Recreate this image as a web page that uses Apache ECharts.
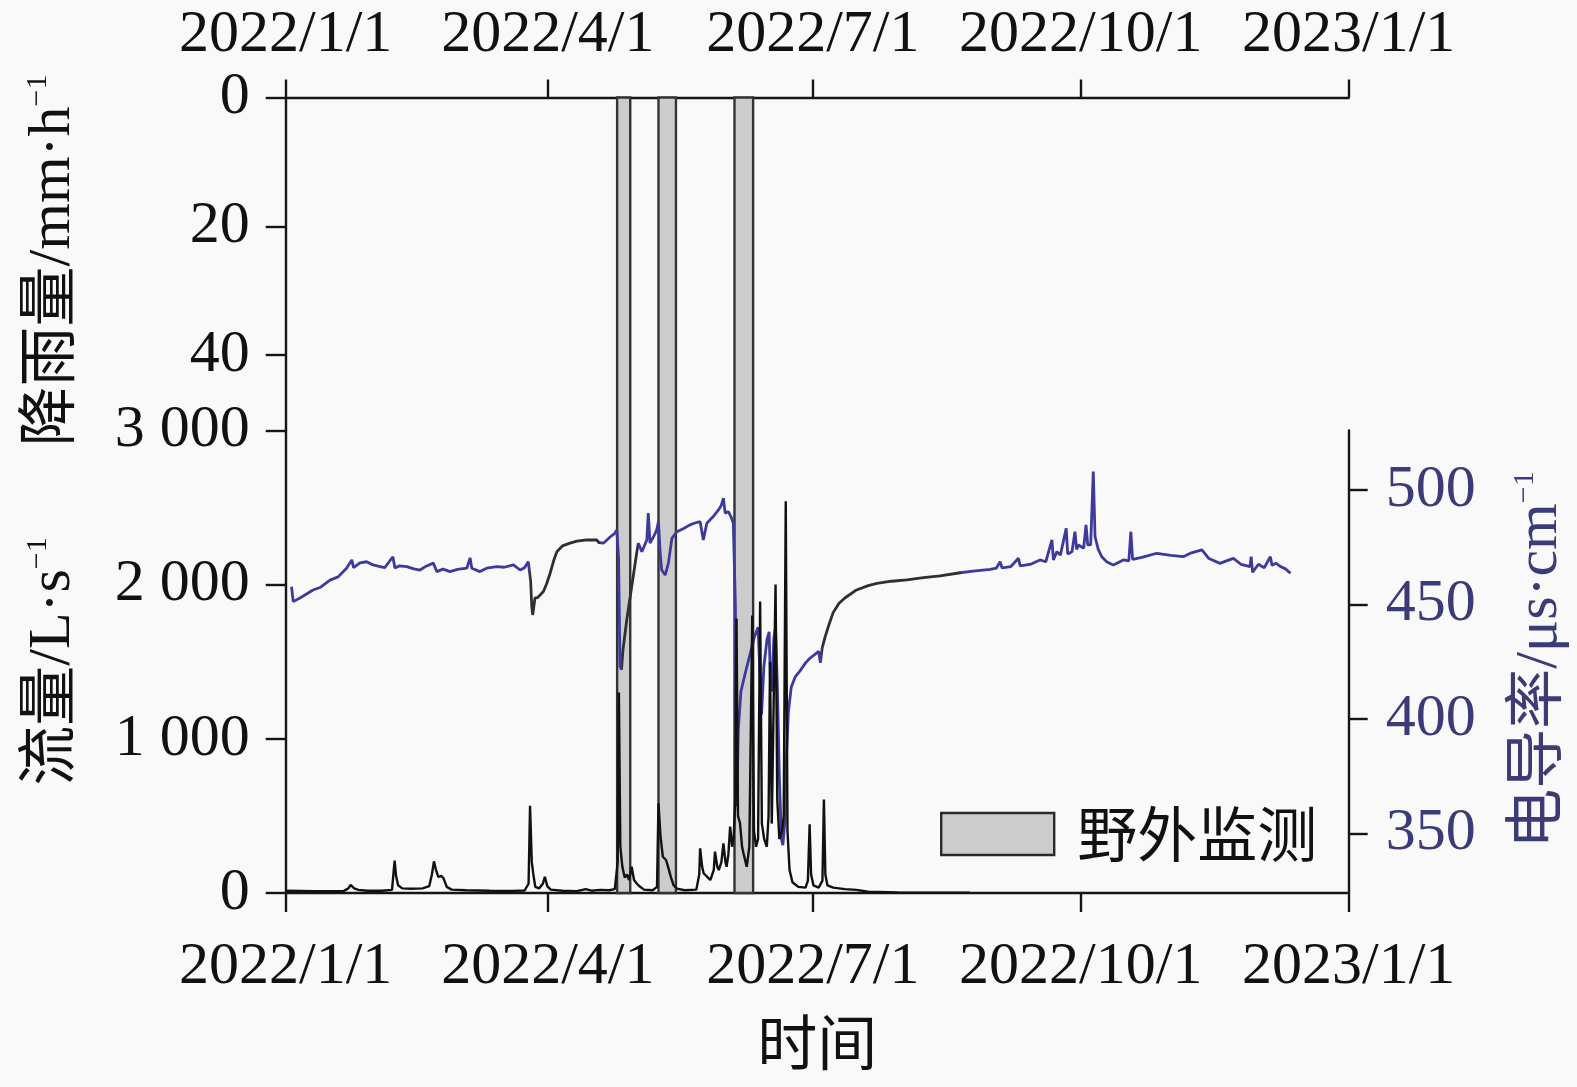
<!DOCTYPE html>
<html>
<head>
<meta charset="utf-8">
<script src="https://cdn.jsdelivr.net/npm/echarts@6/dist/echarts.min.js"></script>
<style>
html,body{margin:0;padding:0;background:#f9f9f9;}
#c{width:1577px;height:1087px;}
</style>
</head>
<body>
<div id="c"></div>
<script>
// x values: days since 2022-01-01
const tickDays = [0, 90, 181, 273, 365];
const tickLabels = ['2022/1/1', '2022/4/1', '2022/7/1', '2022/10/1', '2023/1/1'];
const rainTicks = [0, 20, 40];
const flowTicks = [0, 1000, 2000, 3000];
const ecTicks = [350, 400, 450, 500];

// field monitoring periods (day offsets)
const bandStart = [113.8, 128.0, 154.1];
const bandEnd   = [118.3, 134.0, 160.5];

// flow (L/s)
const flowDay = [0,5,10,15,20,21.5,22.3,23.5,25,28,33,36.5,37.4,37.9,38.6,40,43,47,49.3,50.2,50.9,51.6,52.4,53.5,54.2,55.3,57,62,70,78,82,83.4,83.9,84.5,85.0,85.7,87,88.3,89.0,89.8,91,95,100,103,105,108,111,113,114.0,114.4,114.9,115.6,116.4,117.2,117.9,118.8,119.6,120.6,121.7,123,126,127.5,128.0,128.7,129.5,130.6,131.6,132.2,133.2,134.3,137,141,142.0,142.3,143.0,143.5,145.0,145.8,147.0,147.4,148.2,148.7,149.6,150.3,151.0,151.4,152.0,152.6,153.3,153.8,154.4,154.8,155.3,156.0,156.7,157.2,158.3,159.2,160.2,160.8,161.5,162.2,162.9,163.5,164.3,165.2,165.8,166.3,166.9,167.5,168.2,168.8,169.5,170.4,171.0,171.7,172.3,173.0,174.0,176,178.5,179.3,179.9,180.4,181.2,183,184.3,184.8,185.3,186,188,192,196,200,210,235];
const flowVal = [15,14,12,12,14,30,52,30,20,15,15,20,210,110,50,30,28,30,45,120,205,150,105,110,95,40,22,18,15,14,16,60,565,200,125,40,30,60,105,45,22,15,12,25,15,20,18,25,200,1300,300,170,100,120,84,170,84,60,40,22,18,40,582,365,235,214,150,106,50,28,18,22,120,290,170,128,100,84,150,268,170,149,200,322,200,170,250,430,300,360,600,1780,500,452,300,257,170,300,1800,400,300,350,1890,450,350,300,500,1500,450,450,2000,600,350,400,500,2540,400,150,70,40,35,80,445,120,50,35,80,606,120,50,35,25,20,8,3,2];

// electrical conductivity (us/cm)
const ecDay = [2.0,2.6,4.9,9.4,12,15.2,18,20.9,22.7,23.3,25.5,27.8,30,32.4,34,36.8,37.5,39,41.6,44,46.1,48,50.7,51.9,54,56.4,59,62.2,63.3,63.9,66.7,69,72.5,75,78.2,80.5,82,83.3,84.1,84.5,84.8,85.6,86.5,88.5,89.6,90.8,92,93.1,95,97.6,100,103.4,106.8,107.5,109.1,111.4,113.0,113.7,114.3,114.8,115.3,115.8,117.1,118.8,120.5,121.1,122.3,124,124.5,125.1,126.5,127.4,128,128.6,129.1,130.3,131.4,132.6,134.3,136.5,138.8,140.5,142.3,143.4,144.6,146.8,148.6,149.5,150.3,150.9,152,153.0,153.7,154.4,154.9,155.4,156.3,157.8,159.4,161.0,162.2,162.9,163.4,164.2,165.3,166.0,166.4,166.9,167.6,168.2,168.8,169.5,170.2,170.7,171.4,172.0,172.6,173.6,175.0,176.6,178.5,180.0,181.5,183.0,183.6,184.2,185.2,186.5,188,190,192,196,200,203,208,213.3,219,224.7,231.6,236,241.9,244,245.3,246,249,251.6,252.2,256,259,261,263.1,263.6,264.8,266,268,268.5,270,271,271.6,272.2,274,274.8,275.4,276.4,277.3,277.9,279,280.2,282,284.2,287.6,289.5,290.2,290.8,294,299.1,304,308.2,311,314.6,317,320.8,323,325.4,328,331.1,331.5,332,334,336,338.1,338.7,340,341.6,343.3,345];
const ecVal = [457.7,451.2,452.8,456.3,457.5,460.6,462,465.8,469.4,466,468.1,468.6,467.2,466.5,466,470.8,465.9,466.8,466.5,465.5,465.0,466.5,468.0,464.3,465.4,464.3,465.3,465.8,470.3,465.8,464.3,465.8,466.5,466.2,467.2,465.0,466,468.6,460,449.0,445.4,452.8,453,455.6,459,463.6,469,473.0,475.5,476.7,477.6,478.1,478.1,477,476.7,479.4,481,482.5,470,423,421.5,430,443.2,457.7,472.3,476.7,473,478.1,489.8,476.7,480,482.5,486.1,472,465,462.8,467.9,478.8,481.7,483,484.7,485.5,486.1,478.1,485.4,488.3,491.2,493,496.3,489.8,490.5,488,485.4,450,362,395,412,420,428,436,440,418,402,423,435,438,418,412,435,440,415,375,348,345,355,385,403,414,418.5,421,424.5,426.5,428,429.5,424.5,431,435.7,441,446.5,450.5,452.8,456.3,458.2,459.2,460.1,460.7,461.7,462.4,463.8,464.5,465.3,465.8,468.6,465.9,466.5,470.1,466.8,467.6,469.4,468.6,478.1,469.4,473,471.5,483.2,472,473,481.7,474,475.9,474.5,484.7,476,476,507.9,479.6,474,470.8,468.5,467.2,469.4,469,481.7,469.6,470.5,472.3,471.4,470.8,472.5,473.8,470,467.9,469,470.1,467.5,466.5,470.8,464,467.5,466,470.8,467,468,466.5,465.5,463.6];

const BLUE = '#3d3a9c';
const DARK = '#2e2e33';
const NAVY = '#3b3b78';
const SERIF = "'Liberation Serif', 'Noto Sans CJK SC'";
const FS = 60;

const GL = 285.7, GW = 1063;
const TOP = 97.5, MID = 430.4, BOT = 893;

const flowData = flowDay.map((d, i) => [d, flowVal[i]]);
const ecData = ecDay.map((d, i) => [d, ecVal[i]]);
const bandData = bandStart.map((s, i) => [s, bandEnd[i]]);

const xLabelFmt = v => {
  const i = tickDays.indexOf(Math.round(v));
  return i >= 0 ? tickLabels[i] : '';
};
const axisLineStyle = { color: '#151515', width: 2.4 };

const chart = echarts.init(document.getElementById('c'), null, { renderer: 'canvas' });
chart.setOption({
  backgroundColor: '#f9f9f9',
  animation: false,
  grid: [
    { left: GL, top: TOP, width: GW, height: MID - TOP, outerBoundsMode: 'none' },
    { left: GL, top: MID, width: GW, height: BOT - MID, outerBoundsMode: 'none' },
    { left: GL, top: TOP, width: GW, height: BOT - TOP, outerBoundsMode: 'none' }
  ],
  xAxis: [
    {
      gridIndex: 0, type: 'value', position: 'top', min: 0, max: 365,
      axisLine: { show: true, lineStyle: axisLineStyle },
      axisTick: { show: true, inside: false, length: 18, customValues: tickDays, lineStyle: axisLineStyle },
      axisLabel: { customValues: tickDays, formatter: xLabelFmt, fontFamily: SERIF, fontSize: FS, color: '#111', margin: 32, showMinLabel: true, showMaxLabel: true },
      splitLine: { show: false }
    },
    {
      gridIndex: 1, type: 'value', position: 'bottom', min: 0, max: 365,
      name: '时间', nameLocation: 'middle', nameGap: 126,
      nameTextStyle: { fontFamily: SERIF, fontSize: FS, color: '#111' },
      axisLine: { show: true, lineStyle: axisLineStyle },
      axisTick: { show: true, inside: false, length: 19, customValues: tickDays, lineStyle: axisLineStyle },
      axisLabel: { customValues: tickDays, formatter: xLabelFmt, fontFamily: SERIF, fontSize: FS, color: '#111', margin: 44, showMinLabel: true, showMaxLabel: true },
      splitLine: { show: false }
    },
    { gridIndex: 2, type: 'value', min: 0, max: 365, show: false }
  ],
  yAxis: [
    {
      gridIndex: 0, type: 'value', inverse: true, min: 0, max: (MID - TOP) / 6.44,
      axisLine: { show: true, lineStyle: axisLineStyle },
      axisTick: { show: true, inside: false, length: 20, customValues: rainTicks, lineStyle: axisLineStyle },
      axisLabel: { customValues: rainTicks, fontFamily: SERIF, fontSize: FS, color: '#111', margin: 36 },
      splitLine: { show: false }
    },
    {
      gridIndex: 1, type: 'value', min: 0, max: 3000, interval: 1000,
      axisLine: { show: true, lineStyle: axisLineStyle },
      axisTick: { show: true, inside: false, length: 20, customValues: flowTicks, lineStyle: axisLineStyle },
      axisLabel: {
        customValues: flowTicks, fontFamily: SERIF, fontSize: FS, color: '#111', margin: 36,
        formatter: v => v === 0 ? '0' : (v / 1000) + ' 000'
      },
      splitLine: { show: false }
    },
    {
      gridIndex: 1, type: 'value', position: 'right', min: 324.1, max: 525.9,
      axisLine: { show: true, lineStyle: axisLineStyle },
      axisTick: { show: true, inside: false, length: 19, customValues: ecTicks, lineStyle: axisLineStyle },
      axisLabel: { customValues: ecTicks, fontFamily: SERIF, fontSize: FS, color: NAVY, margin: 37 },
      splitLine: { show: false }
    },
    { gridIndex: 2, type: 'value', min: 0, max: 1, show: false }
  ],
  visualMap: {
    type: 'piecewise', show: false, seriesIndex: 2, dimension: 0,
    pieces: [
      { gte: -10, lt: 84, color: BLUE },
      { gte: 84, lt: 108, color: DARK },
      { gte: 108, lt: 115.5, color: BLUE },
      { gte: 115.5, lt: 121, color: DARK },
      { gte: 121, lt: 184, color: BLUE },
      { gte: 184, lt: 232, color: DARK },
      { gte: 232, lte: 400, color: BLUE }
    ]
  },
  legend: {
    data: ['野外监测'], selectedMode: false, left: 940, top: 804, padding: 0,
    icon: 'rect', itemWidth: 113, itemHeight: 42,
    itemStyle: { color: '#cccccc', borderColor: '#2a2a2a', borderWidth: 2.4 },
    textStyle: { fontFamily: "'Noto Sans CJK SC'", fontSize: FS, color: '#111', padding: [0, 0, 0, 18] }
  },
  series: [
    {
      name: '野外监测', type: 'custom', xAxisIndex: 2, yAxisIndex: 3, z: 1,
      itemStyle: { color: '#cccccc', borderColor: '#2a2a2a', borderWidth: 2.4 },
      data: bandData,
      renderItem: (params, api) => {
        const p0 = api.coord([api.value(0), 1]);
        const p1 = api.coord([api.value(1), 0]);
        return {
          type: 'rect',
          shape: { x: p0[0], y: p0[1], width: p1[0] - p0[0], height: p1[1] - p0[1] },
          style: { fill: '#cccccc', stroke: '#333333', lineWidth: 2.4 }
        };
      }
    },
    {
      name: '流量', type: 'line', xAxisIndex: 1, yAxisIndex: 1, z: 4,
      data: flowData, symbol: 'none', lineStyle: { color: '#111', width: 2.4 }
    },
    {
      name: '电导率', type: 'line', xAxisIndex: 1, yAxisIndex: 2, z: 3,
      data: ecData, symbol: 'none', lineStyle: { width: 2.8 }
    }
  ],
  graphic: [
    {
      type: 'text', x: 53, y: 260.5, rotation: Math.PI / 2,
      style: {
        text: '{a|降雨量/mm·h}{s|−1}', align: 'center', verticalAlign: 'middle',
        rich: {
          a: { fontFamily: SERIF, fontSize: FS, fill: '#111', lineHeight: 60 },
          s: { fontFamily: SERIF, fontSize: 30, fill: '#111', lineHeight: 60, verticalAlign: 'top' }
        }
      }
    },
    {
      type: 'text', x: 53, y: 661.5, rotation: Math.PI / 2,
      style: {
        text: '{a|流量/L·s}{s|−1}', align: 'center', verticalAlign: 'middle',
        rich: {
          a: { fontFamily: SERIF, fontSize: FS, fill: '#111', lineHeight: 60 },
          s: { fontFamily: SERIF, fontSize: 30, fill: '#111', lineHeight: 60, verticalAlign: 'top' }
        }
      }
    },
    {
      type: 'text', x: 1540, y: 660, rotation: Math.PI / 2,
      style: {
        text: '{a|电导率/μs·cm}{s|−1}', align: 'center', verticalAlign: 'middle',
        rich: {
          a: { fontFamily: SERIF, fontSize: FS, fill: NAVY, lineHeight: 60 },
          s: { fontFamily: SERIF, fontSize: 30, fill: NAVY, lineHeight: 60, verticalAlign: 'top' }
        }
      }
    }
  ]
});
</script>
</body>
</html>
